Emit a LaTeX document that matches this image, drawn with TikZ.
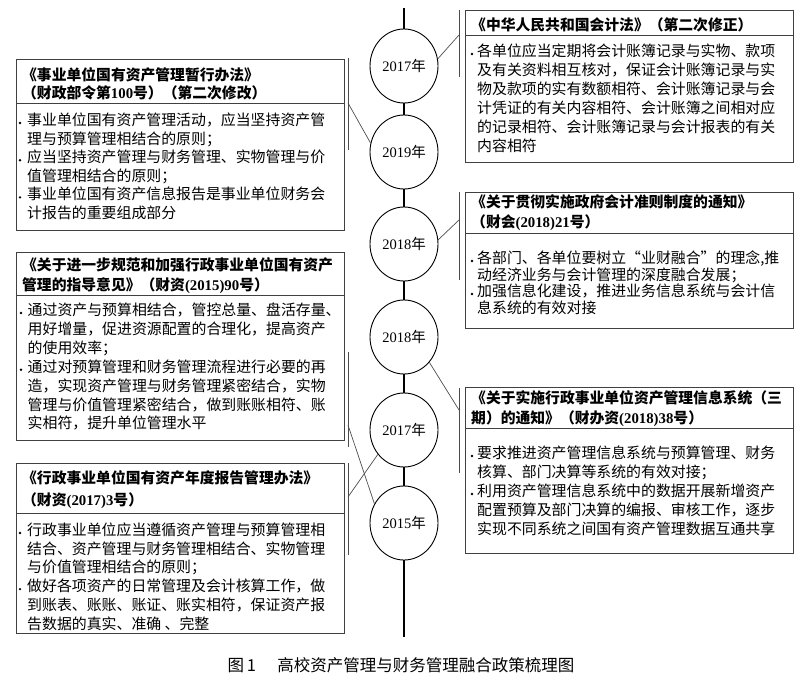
\documentclass[tikz,border=0pt]{standalone}
\usepackage{fontspec}
\setmainfont{Noto Sans CJK SC}
\newfontfamily\lat{Liberation Serif}
\newcommand\nb[1]{{\lat\bfseries #1}}
\newcommand\yr[1]{{\lat #1}年}
\usetikzlibrary{shapes.geometric}
\tikzset{
  pbox/.style={draw=black!75, line width=0.9pt},
  tline/.style={anchor=base west, inner sep=0pt, font=\fontsize{14.9}{18}\selectfont},
  ttl/.style={anchor=base west, inner sep=0pt, font=\fontsize{14.8}{18}\selectfont\bfseries},
  bul/.style={circle, fill=black, inner sep=0pt, minimum size=2.6pt},
  yrnode/.style={ellipse, draw, line width=0.9pt, fill=white, minimum width=68pt, minimum height=74pt, inner sep=0pt, font=\fontsize{14.5}{17}\selectfont},
  brk/.style={draw=black!70, line width=0.8pt},
  link/.style={draw=black!70, line width=0.7pt},
  spine/.style={draw=black, line width=1.4pt},
  capt/.style={inner sep=0pt, font=\fontsize{16.5}{20}\selectfont}
}
\begin{document}
\begin{tikzpicture}[x=1pt,y=-1pt]
\path[use as bounding box] (0,0) rectangle (800,682);

% spine
\coordinate (top) at (404,8);
\coordinate (bot) at (404,637);
\draw[spine] (top) -- (bot);
\node[yrnode] (c1) at (404,66) {\yr{2017}};
\node[yrnode] (c2) at (404,152) {\yr{2019}};
\node[yrnode] (c3) at (404,244) {\yr{2018}};
\node[yrnode] (c4) at (404,337) {\yr{2018}};
\node[yrnode] (c5) at (404,430) {\yr{2017}};
\node[yrnode] (c6) at (404,523) {\yr{2015}};

% ---------- L1 ----------
\draw[pbox] (16,59) rectangle (344,230);
\draw[pbox] (16,103) -- (344,103);
\node[ttl] (l1t1) at (22,80.5) {《事业单位国有资产管理暂行办法》};
\node[ttl] (l1t2) at (22,98.5) {（财政部令第\nb{100}号）（第二次修改）};
\node[bul] (l1b1) at (20,123) {};
\node[bul] (l1b2) at (20,160.2) {};
\node[bul] (l1b3) at (20,197.4) {};
\node[tline] (l1a) at (27,125.5) {事业单位国有资产管理活动，应当坚持资产管};
\node[tline] (l1b) at (27,144.1) {理与预算管理相结合的原则；};
\node[tline] (l1c) at (27,162.7) {应当坚持资产管理与财务管理、实物管理与价};
\node[tline] (l1d) at (27,181.3) {值管理相结合的原则；};
\node[tline] (l1e) at (27,199.9) {事业单位国有资产信息报告是事业单位财务会};
\node[tline] (l1f) at (27,218.5) {计报告的重要组成部分};

% ---------- L2 ----------
\draw[pbox] (16,252) rectangle (344,440);
\draw[pbox] (16,295) -- (344,295);
\node[ttl] (l2t1) at (22,270.5) {《关于进一步规范和加强行政事业单位国有资产};
\node[ttl] (l2t2) at (22,290.5) {管理的指导意见》（财资\nb{(2015)90}号）};
\node[bul] (l2b1) at (21,313) {};
\node[bul] (l2b2) at (21,369.7) {};
\node[tline] (l2a) at (27.5,315.5) {通过资产与预算相结合，管控总量、盘活存量、};
\node[tline] (l2b) at (27.5,334.4) {用好增量，促进资源配置的合理化，提高资产};
\node[tline] (l2c) at (27.5,353.3) {的使用效率；};
\node[tline] (l2d) at (27.5,372.2) {通过对预算管理和财务管理流程进行必要的再};
\node[tline] (l2e) at (27.5,391.1) {造，实现资产管理与财务管理紧密结合，实物};
\node[tline] (l2f) at (27.5,410) {管理与价值管理紧密结合，做到账账相符、账};
\node[tline] (l2g) at (27.5,428.9) {实相符，提升单位管理水平};

% ---------- L3 ----------
\draw[pbox] (16,463) rectangle (344,633);
\draw[pbox] (16,513) -- (344,513);
\node[ttl] (l3t1) at (22,483.5) {《行政事业单位国有资产年度报告管理办法》};
\node[ttl] (l3t2) at (22,505.5) {（财资\nb{(2017)3}号）};
\node[bul] (l3b1) at (20,533) {};
\node[bul] (l3b2) at (20,589.1) {};
\node[tline] (l3a) at (27,535.5) {行政事业单位应当遵循资产管理与预算管理相};
\node[tline] (l3b) at (27,554.2) {结合、资产管理与财务管理相结合、实物管理};
\node[tline] (l3c) at (27,572.9) {与价值管理相结合的原则；};
\node[tline] (l3d) at (27,591.6) {做好各项资产的日常管理及会计核算工作，做};
\node[tline] (l3e) at (27,610.3) {到账表、账账、账证、账实相符，保证资产报};
\node[tline] (l3f) at (27,629) {告数据的真实、准确 、完整};

% ---------- R1 ----------
\draw[pbox] (465,10) rectangle (793,162);
\draw[pbox] (465,35) -- (793,35);
\node[ttl] (r1t1) at (471,30.5) {《中华人民共和国会计法》（第二次修正）};
\node[bul] (r1b1) at (472,54) {};
\node[tline] (r1a) at (477,56.5) {各单位应当定期将会计账簿记录与实物、款项};
\node[tline] (r1b) at (477,75.5) {及有关资料相互核对，保证会计账簿记录与实};
\node[tline] (r1c) at (477,94.5) {物及款项的实有数额相符、会计账簿记录与会};
\node[tline] (r1d) at (477,113.5) {计凭证的有关内容相符、会计账簿之间相对应};
\node[tline] (r1e) at (477,132.5) {的记录相符、会计账簿记录与会计报表的有关};
\node[tline] (r1f) at (477,151.5) {内容相符};

% ---------- R2 ----------
\draw[pbox] (465,192) rectangle (793,328);
\draw[pbox] (465,233) -- (793,233);
\node[ttl] (r2t1) at (471,207.5) {《关于贯彻实施政府会计准则制度的通知》};
\node[ttl] (r2t2) at (471,227.5) {（财会\nb{(2018)21}号）};
\node[bul] (r2b1) at (472,261) {};
\node[bul] (r2b2) at (472,294) {};
\node[tline] (r2a) at (477,263.5) {各部门、各单位要树立“业财融合”的理念,推};
\node[tline] (r2b) at (477,280) {动经济业务与会计管理的深度融合发展；};
\node[tline] (r2c) at (477,296.5) {加强信息化建设，推进业务信息系统与会计信};
\node[tline] (r2d) at (477,313) {息系统的有效对接};

% ---------- R3 ----------
\draw[pbox] (465,387) rectangle (793,553);
\draw[pbox] (465,428) -- (793,428);
\node[ttl] (r3t1) at (471,403.5) {《关于实施行政事业单位资产管理信息系统（三};
\node[ttl] (r3t2) at (471,423.5) {期）的通知》（财办资\nb{(2018)38}号）};
\node[bul] (r3b1) at (472,456) {};
\node[bul] (r3b2) at (472,494) {};
\node[tline] (r3a) at (477,458.5) {要求推进资产管理信息系统与预算管理、财务};
\node[tline] (r3b) at (477,477.5) {核算、部门决算等系统的有效对接；};
\node[tline] (r3c) at (477,496.5) {利用资产管理信息系统中的数据开展新增资产};
\node[tline] (r3d) at (477,515.5) {配置预算及部门决算的编报、审核工作，逐步};
\node[tline] (r3e) at (477,534.5) {实现不同系统之间国有资产管理数据互通共享};

% ---------- brackets and links ----------
\coordinate (k1a) at (348,58);  \coordinate (k1b) at (348,150); \coordinate (k1m) at (348,103);
\coordinate (k2a) at (348,352); \coordinate (k2b) at (348,447); \coordinate (k2m) at (348,425);
\coordinate (k3a) at (348,463); \coordinate (k3b) at (348,555); \coordinate (k3m) at (348,497);
\coordinate (q1a) at (459,10);  \coordinate (q1b) at (459,77);  \coordinate (q1m) at (459,35);
\coordinate (q2a) at (459,192); \coordinate (q2b) at (459,280); \coordinate (q2m) at (459,220);
\coordinate (q3a) at (459,388); \coordinate (q3b) at (459,473); \coordinate (q3m) at (459,410);
\draw[brk] (k1a) -- (k1b);
\draw[brk] (k2a) -- (k2b);
\draw[brk] (k3a) -- (k3b);
\draw[brk] (q1a) -- (q1b);
\draw[brk] (q2a) -- (q2b);
\draw[brk] (q3a) -- (q3b);
\draw[link] (k1m) -- (c2.165);
\draw[link] (k2m) -- (c6.147);
\draw[link] (k3m) -- (c5.-137);
\draw[link] (q1m) -- (c1.12);
\draw[link] (q2m) -- (c3.7);
\draw[link] (q3m) -- (c4.-45);

% caption
\node[capt] (cap) at (401,665) {图\,1\hspace{1.3em}高校资产管理与财务管理融合政策梳理图};
\end{tikzpicture}
\end{document}
